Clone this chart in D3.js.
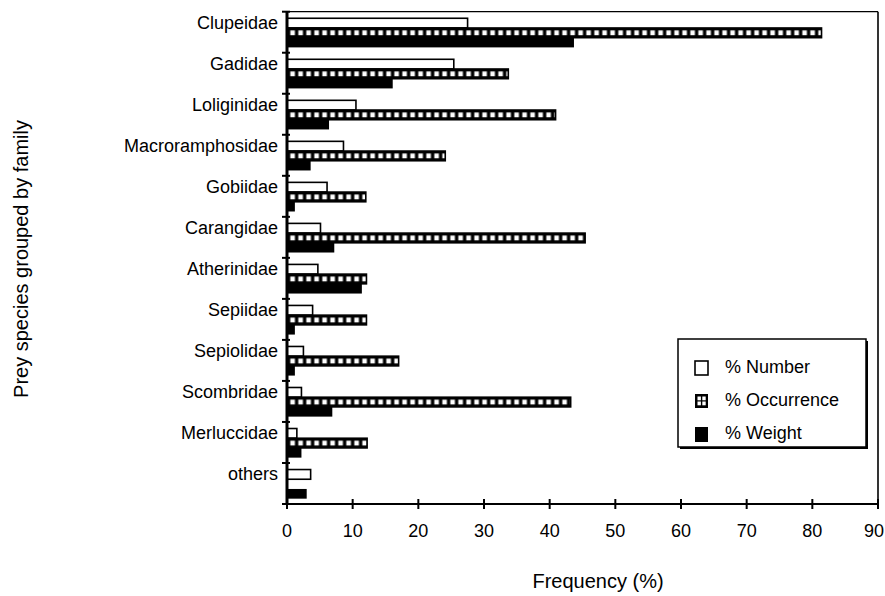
<!DOCTYPE html>
<html>
<head>
<meta charset="utf-8">
<script src="https://cdn.jsdelivr.net/npm/d3@7"></script>
<style>
  html, body { margin: 0; padding: 0; background: #fff; }
  svg text { font-family: Arial, "Liberation Sans", Helvetica, sans-serif; fill: #000; }
</style>
</head>
<body>
<svg id="chart" width="885" height="596"></svg>
<script>
const categories = ["Clupeidae","Gadidae","Loliginidae","Macroramphosidae","Gobiidae","Carangidae","Atherinidae","Sepiidae","Sepiolidae","Scombridae","Merluccidae","others"];
const numberVals = [27.5,25.4,10.5,8.6,6.1,5.1,4.7,3.9,2.5,2.2,1.5,3.6];
const occurrenceVals = [81.4,33.7,40.9,24.1,12.0,45.4,12.1,12.1,17.0,43.2,12.2,0];
const weightVals = [43.7,16.1,6.4,3.6,1.2,7.2,11.4,1.2,1.2,6.9,2.2,3.0];
const seriesNames = ["% Number","% Occurrence","% Weight"];
const xTicks = [0,10,20,30,40,50,60,70,80,90];

(function() {
const svg = d3.select("#chart");
const pL = 287, pR = 878, pT = 11.7, pB = 504;

const x = d3.scaleLinear().domain([0, 90]).range([pL, pR]);
const y = d3.scaleBand().domain(categories).range([pT, pB]).padding(0);
const step = y.step();
const y1 = d3.scaleBand().domain(seriesNames).range([step * 0.16, step * 0.87]).padding(0);
const bh = y1.bandwidth();

// pattern for occurrence (user space of each category group)
const defs = svg.append("defs");
const pat = defs.append("pattern")
  .attr("id", "occ").attr("patternUnits", "userSpaceOnUse")
  .attr("x", x(0) + 1.5).attr("y", 0).attr("width", 8).attr("height", step);
pat.append("rect").attr("width", 8).attr("height", step).attr("fill", "#000");
pat.append("rect").attr("x", 1.8).attr("y", y1("% Occurrence") + (bh - 4.8) / 2)
  .attr("width", 4.6).attr("height", 4.8).attr("fill", "#fff");

// frame
svg.append("line").attr("x1", pL).attr("x2", pR).attr("y1", pT).attr("y2", pT)
  .attr("stroke", "#000").attr("stroke-width", 1.3);
svg.append("line").attr("x1", pR).attr("x2", pR).attr("y1", pT).attr("y2", pB)
  .attr("stroke", "#000").attr("stroke-width", 1.6);

const rows = categories.map((c, i) => ({ c, n: numberVals[i], o: occurrenceVals[i], w: weightVals[i] }));

const grp = svg.append("g").selectAll("g.cat").data(rows).join("g")
  .attr("transform", d => `translate(0,${y(d.c)})`);

grp.append("rect")
  .attr("x", x(0)).attr("y", y1("% Number"))
  .attr("width", d => Math.max(0, x(d.n) - x(0))).attr("height", bh)
  .attr("fill", "#fff").attr("stroke", "#000").attr("stroke-width", 1.6);

grp.filter(d => d.o > 0).append("rect")
  .attr("x", x(0)).attr("y", y1("% Occurrence"))
  .attr("width", d => x(d.o) - x(0)).attr("height", bh)
  .attr("fill", "url(#occ)").attr("stroke", "#000").attr("stroke-width", 1.6);

grp.append("rect")
  .attr("x", x(0)).attr("y", y1("% Weight"))
  .attr("width", d => x(d.w) - x(0)).attr("height", bh)
  .attr("fill", "#000");

// y axis
svg.append("line").attr("x1", pL).attr("x2", pL).attr("y1", pT).attr("y2", pB)
  .attr("stroke", "#000").attr("stroke-width", 3);
const bounds = categories.map(c => y(c)).concat([y(categories[categories.length - 1]) + step]);
svg.selectAll("line.ytick").data(bounds).join("line")
  .attr("x1", pL - 5).attr("x2", pL + 3).attr("y1", d => d).attr("y2", d => d)
  .attr("stroke", "#000").attr("stroke-width", 2);
svg.selectAll("text.ylab").data(categories).join("text")
  .attr("x", pL - 9).attr("y", d => y(d) + 17.5)
  .attr("text-anchor", "end").attr("font-size", 18).text(d => d);

// x axis
svg.append("line").attr("x1", pL).attr("x2", pR + 1).attr("y1", pB).attr("y2", pB)
  .attr("stroke", "#000").attr("stroke-width", 2.2);
svg.selectAll("line.xtick").data(xTicks).join("line")
  .attr("x1", d => x(d)).attr("x2", d => x(d)).attr("y1", pB - 5).attr("y2", pB + 5)
  .attr("stroke", "#000").attr("stroke-width", 2);
svg.selectAll("text.xlab").data(xTicks).join("text")
  .attr("x", d => d === 90 ? 884 : x(d)).attr("y", pB + 33)
  .attr("text-anchor", d => d === 90 ? "end" : "middle").attr("font-size", 18).text(d => d);

// titles
svg.append("text").attr("x", 598).attr("y", 588).attr("text-anchor", "middle")
  .attr("font-size", 20).text("Frequency (%)");
svg.append("text").attr("transform", "translate(28,259) rotate(-90)")
  .attr("text-anchor", "middle").attr("font-size", 20).text("Prey species grouped by family");

// legend
const lg = svg.append("g").attr("transform", "translate(678,339)");
lg.append("rect").attr("x", 2).attr("y", 2).attr("width", 188).attr("height", 108).attr("fill", "#000");
lg.append("rect").attr("width", 188).attr("height", 108).attr("fill", "#fff")
  .attr("stroke", "#000").attr("stroke-width", 1.5);
const items = lg.selectAll("g.item").data(seriesNames).join("g")
  .attr("transform", (d, i) => `translate(17,${22 + i * 33})`);
items.each(function(d, i) {
  const it = d3.select(this);
  if (i === 0) {
    it.append("rect").attr("x", 0).attr("y", 0).attr("width", 13).attr("height", 14)
      .attr("fill", "#fff").attr("stroke", "#000").attr("stroke-width", 1.6);
  } else if (i === 1) {
    it.append("rect").attr("x", 0).attr("y", 0).attr("width", 13).attr("height", 14).attr("fill", "#000");
    [[2.5, 2.5], [7.3, 2.5], [2.5, 7.5], [7.3, 7.5]].forEach(p => {
      it.append("rect").attr("x", p[0]).attr("y", p[1]).attr("width", 3.4).attr("height", 3.8).attr("fill", "#fff");
    });
  } else {
    it.append("rect").attr("x", 0).attr("y", 0).attr("width", 13).attr("height", 15).attr("fill", "#000");
  }
  it.append("text").attr("x", 30).attr("y", 12).attr("font-size", 18).text(d);
});
})();
</script>
</body>
</html>
